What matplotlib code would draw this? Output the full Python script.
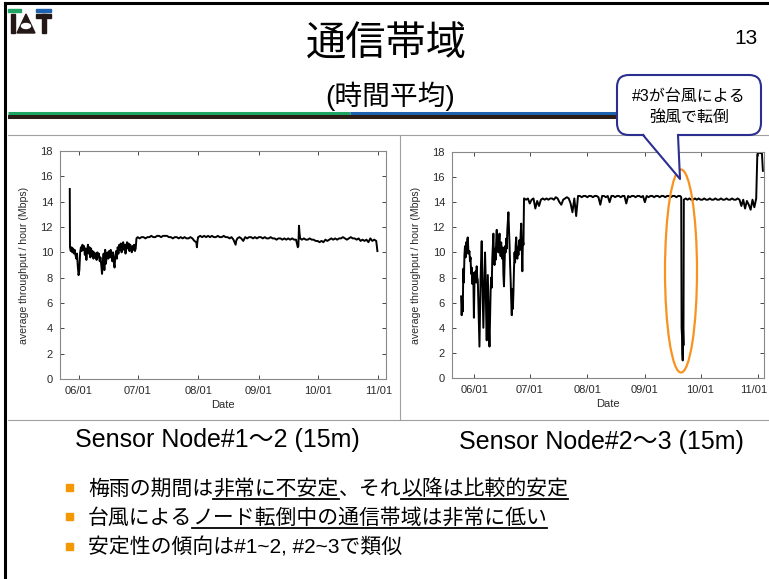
import numpy as np
import matplotlib.pyplot as plt
from matplotlib.patches import Rectangle, Polygon, Ellipse, FancyBboxPatch
from matplotlib.transforms import ScaledTranslation

plt.rcParams['font.family'] = ['Liberation Sans', 'Noto Sans CJK JP']

# ---- data : hourly-averaged throughput (Mbps) ----
# day offsets are counted from 06/01
base = np.datetime64('2012-06-01T00:00')

# Sensor Node #1-2
n12_start = [15.0, 10.4]                                    # days -4.7, -4.6
n12_rain = [10.1, 10.4, 10.0, 10.3, 9.9, 10.2, 9.8, 9.5, 9.9, 8.9,
            8.2, 8.6, 10.0, 10.4, 10.1, 10.6, 10.2, 10.5, 9.8, 10.3,
            9.4, 10.2, 10.6, 9.9, 10.4, 9.6, 10.3, 9.7, 10.1, 9.5,
            10.0, 9.6, 9.9, 9.4, 10.0, 9.6, 9.9, 9.3, 9.6, 9.0,
            8.3, 9.2, 9.9, 8.6, 10.2, 9.1, 9.8, 10.0, 9.5, 10.1,
            9.6, 10.2, 9.8, 9.3, 10.0, 9.2, 8.8, 9.7, 10.1, 9.5,
            10.4, 9.9, 10.6, 10.2, 10.7, 10.0, 10.5, 10.8, 10.2, 10.6,
            9.9, 10.5, 10.8, 10.3, 10.7, 10.1, 10.6, 10.4, 10.0, 10.5,
            10.2, 10.6, 10.1, 10.3]                          # every 0.4 day from -4.2
n12_jul = [11.1, 11.2, 11.1, 11.2, 11.2, 11.1, 11.2, 11.2, 11.3, 11.2, 11.2,
           11.3, 11.3, 11.2, 11.3, 11.3, 11.3, 11.2, 11.2, 11.1, 11.2,
           11.2, 11.1, 11.2, 11.1, 11.2, 11.1, 11.1, 11.2, 11.1, 10.9]   # 29.4, then daily from 30
n12_dip1 = [10.8, 10.4, 10.9, 11.2]                         # every 0.3 day from 60.0
n12_aug = [11.2, 11.3, 11.2, 11.3, 11.2, 11.3, 11.2, 11.3, 11.2, 11.2,
           11.3, 11.2, 11.2, 11.3, 11.2, 11.2, 11.1, 11.2, 11.0]         # daily from 61
n12_dip2 = [10.6, 10.9]                                     # every 0.3 day from 80.1
n12_sep = [11.1, 11.2, 11.1, 10.9, 11.2, 11.1, 11.2, 11.2, 11.1, 11.2,
           11.1, 11.2, 11.2, 11.1, 11.2, 11.1, 11.1, 11.2, 11.1, 11.1,
           11.0, 11.1, 11.1, 11.0, 11.1, 11.0, 11.1, 11.0, 11.1, 11.0, 11.0]  # daily from 81
n12_typh = [10.6, 10.4, 10.5, 12.1, 11.5, 11.1]             # every 0.3 day from 111.6
n12_oct = [11.0, 11.1, 11.0, 11.0, 11.1, 11.0, 11.0, 10.9, 10.9, 10.8,
           10.9, 10.8, 11.0, 10.9, 11.0, 11.1, 11.0, 11.1, 11.0, 11.1,
           11.1, 11.2, 11.1, 11.0, 11.1, 11.2, 11.1, 11.1, 11.0, 11.1,
           10.9, 11.0, 10.9, 11.0, 10.8, 11.1, 10.9, 11.0, 10.9]         # daily from 114
n12_end = [10.1]                                            # day 152.6

# Sensor Node #2-3
n23_rain = [6.5, 5.0, 6.2, 5.3, 8.7, 7.6, 9.8, 10.5, 9.6, 10.8,
            9.9, 11.0, 11.2, 10.2, 9.9, 10.1, 9.3, 9.6, 8.3, 8.8,
            7.5, 8.4, 8.0, 4.8, 7.6, 8.3, 8.5, 7.6, 8.9, 8.0,
            7.8, 6.0, 4.2, 2.5, 5.3, 8.0, 9.6, 10.9, 8.0, 6.1,
            4.0, 6.2, 8.4, 10.0, 8.3, 5.0, 3.0, 5.8, 8.2, 5.9,
            4.0, 2.5, 4.8, 6.9, 8.0, 7.2, 9.5, 10.6, 11.5, 9.8,
            9.0, 10.3, 9.4, 10.8, 11.8, 10.4, 11.2, 10.0, 10.9, 11.5,
            10.2, 9.7, 10.8, 9.9, 9.5, 10.4, 8.2, 7.3, 9.0, 10.5,
            10.0, 11.1, 10.3, 11.8, 12.5, 13.2, 12.0, 10.6, 9.0, 7.8,
            6.2, 5.0, 7.1, 5.5, 6.8, 8.7, 10.0, 9.2, 10.6, 11.2,
            10.1, 9.5, 10.4, 9.8, 10.8, 11.0, 10.2, 11.5, 12.3, 10.4,
            8.5, 11.0, 10.6]                                # every 0.3 day from -7.0
n23_jul = [14.3, 14.3, 14.2, 14.3, 13.9, 14.2, 14.3, 13.5, 14.1, 13.7, 14.2,
           14.3, 14.2, 14.3, 14.2, 14.3, 14.3, 14.2, 14.4, 14.3, 14.0,
           13.8, 14.2, 14.3, 14.4, 14.3, 13.9, 13.2, 14.3, 12.9, 14.5,
           14.5, 14.4, 14.5, 14.5, 14.4, 14.5, 14.5, 14.4, 14.5, 14.5,
           14.4, 13.8, 14.5, 14.5, 14.4, 14.5, 14.0, 14.5, 14.5, 14.4,
           14.5, 14.5, 14.4, 14.5, 14.5, 13.9, 14.5, 14.4, 14.5, 14.5,
           14.4, 14.5, 14.5, 14.4, 14.5, 14.0, 14.5, 14.4, 14.5, 14.5,
           14.4, 14.5, 14.5, 14.4, 14.5, 14.5, 14.4, 14.5, 14.5, 14.4,
           14.5, 14.5, 14.4, 14.5, 14.5]                    # 26.9, then daily from 27
n23_typh = [14.4, 4.0, 3.4, 2.0, 1.4, 3.8, 2.6, 14.2]       # every 0.2 day from 111.6
n23_oct = [14.3, 14.2, 14.3, 14.2, 14.2, 14.3, 14.2, 14.3, 14.2, 14.2,
           14.3, 14.2, 14.2, 14.3, 14.2, 14.2, 14.3, 14.2, 14.2, 14.3,
           14.2, 14.2, 14.3, 14.2, 14.2, 14.3, 14.2, 14.2, 14.3, 14.2,
           13.7, 14.2, 13.5, 14.1, 13.8, 13.4, 14.2, 13.6, 14.3]         # daily from 114
n23_nov = [17.8, 18.0, 18.0, 17.9, 18.0, 17.9, 16.5]        # every 0.5 day from 152.6

date_ticks = ['06/01', '07/01', '08/01', '09/01', '10/01', '11/01']
y_ticks = [0, 2, 4, 6, 8, 10, 12, 14, 16, 18]


def seg(start, step, vals):
    return start + step * np.arange(len(vals))


def to_dates(days):
    return base + np.round(np.asarray(days) * 1440).astype(int).astype('timedelta64[m]')


n12_days = np.concatenate([seg(-4.7, 0.1, n12_start), seg(-4.2, 0.4, n12_rain),
                           [29.4], seg(30, 1, n12_jul[1:]), seg(60.0, 0.3, n12_dip1),
                           seg(61, 1, n12_aug), seg(80.1, 0.3, n12_dip2),
                           seg(81, 1, n12_sep), seg(111.6, 0.3, n12_typh),
                           seg(114, 1, n12_oct), [152.6]])
n12_vals = n12_start + n12_rain + n12_jul + n12_dip1 + n12_aug + n12_dip2 + n12_sep + n12_typh + n12_oct + n12_end

n23_days = np.concatenate([seg(-7.0, 0.3, n23_rain), [26.9], seg(27, 1, n23_jul[1:]),
                           seg(111.6, 0.2, n23_typh), seg(114, 1, n23_oct),
                           seg(152.6, 0.5, n23_nov)])
n23_vals = n23_rain + n23_jul + n23_typh + n23_oct + n23_nov

W, H = 769, 579
fig = plt.figure(figsize=(W / 100, H / 100), dpi=100)
fig.patch.set_facecolor('white')


def box(x0, y0, x1, y1):
    return [x0 / W, 1 - y1 / H, (x1 - x0) / W, (y1 - y0) / H]


def chart(rect, days, vals, lim):
    ax = fig.add_axes(box(*rect))
    ax.plot(to_dates(days), vals, color='black', lw=1.4)
    ax.set_ylim(0, 18)
    ax.set_yticks(y_ticks)
    ax.set_xlim(to_dates(lim))
    ax.set_xticks(to_dates([0, 30, 61, 92, 122, 153]))
    ax.set_xticklabels(date_ticks)
    ax.tick_params(direction='in', top=True, right=True, length=3, width=0.6,
                   labelsize=8, colors='#2a2a2a', pad=5)
    for s in ax.spines.values():
        s.set_color('#888888')
        s.set_linewidth(0.8)
    ax.set_xlabel('Date', fontsize=8, color='#2a2a2a', labelpad=3)
    ax.set_ylabel('average throughput / hour (Mbps)', fontsize=7.6, color='#2a2a2a', labelpad=8)
    return ax


chart((60, 151, 386, 379), n12_days, n12_vals, (-9.7, 157))
ax2 = chart((452, 152, 764, 378), n23_days, n23_vals, (-11.9, 156.2))
# the last date label sits at the slide edge: nudge it inside
last = ax2.xaxis.get_major_ticks()[-1].label1
last.set_transform(last.get_transform() + ScaledTranslation(-0.045, 0, fig.dpi_scale_trans))

# ---- slide overlay (pixel coordinates) ----
ov = fig.add_axes([0, 0, 1, 1])
ov.set_xlim(0, W)
ov.set_ylim(H, 0)
ov.axis('off')

# frame
ov.plot([5, 5], [3, H], color='black', lw=2.2)
ov.plot([5, W], [3, 3], color='black', lw=2.2)

# logo
dark = '#231815'
ov.add_patch(Rectangle((8, 9), 13, 3, color='#1fa463'))
ov.add_patch(Rectangle((36, 9), 15, 3, color='#1c62b0'))
ov.add_patch(Rectangle((11, 14), 4, 19, color=dark))
ov.add_patch(Polygon([(26, 14), (17, 33), (35, 33)], color=dark))
ov.add_patch(Ellipse((26, 26), 9, 5, color='white'))
ov.add_patch(Rectangle((36, 14), 15, 4, color=dark))
ov.add_patch(Rectangle((41.5, 14), 4, 19, color=dark))

# titles
ov.text(386, 45, '通信帯域', fontsize=29, ha='center', va='center')
ov.text(390, 96, '(時間平均)', fontsize=20, ha='center', va='center')
ov.text(746, 38, '13', fontsize=15, ha='center', va='center')

# header rule
ov.plot([8, 350], [112.5, 112.5], color='#1fa463', lw=2.2, solid_capstyle='butt')
ov.plot([350, 700], [112.5, 112.5], color='#1c62b0', lw=2.2, solid_capstyle='butt')
ov.plot([8, 700], [116.5, 116.5], color='#2b1d16', lw=2.9, solid_capstyle='butt')

# chart panel lines
grey = '#a0a0a0'
ov.plot([8, W], [135, 135], color=grey, lw=0.8)
ov.plot([8, W], [420, 420], color=grey, lw=0.8)
ov.plot([400, 400], [135, 420], color=grey, lw=0.8)

# callout
navy = '#2b2f8f'
ov.add_patch(FancyBboxPatch((617, 75), 144, 60, boxstyle='round,pad=0,rounding_size=12',
                            facecolor='white', edgecolor=navy, lw=1.5, zorder=5))
ov.add_patch(Polygon([(643, 133), (680, 179), (678, 133)], facecolor='white',
                     edgecolor='none', zorder=6))
ov.plot([643, 680, 678], [135, 179, 135], color=navy, lw=1.5, zorder=7)
ov.text(689, 96, '#3が台風による', fontsize=11.5, ha='center', va='center', zorder=8)
ov.text(689, 118, '強風で転倒', fontsize=11.5, ha='center', va='center', zorder=8)

# typhoon marker
ov.add_patch(Ellipse((681, 271), 32, 203, fill=False, edgecolor='#f7931e', lw=1.6, zorder=4))

# captions
ov.text(217, 440, 'Sensor Node#1～2 (15m)', fontsize=18, ha='center', va='center')
ov.text(601, 442, 'Sensor Node#2～3 (15m)', fontsize=18, ha='center', va='center')

bullets = [
    [('梅雨の期間は', False), ('非常に不安定', True), ('、それ', False), ('以降は比較的安定', True)],
    [('台風による', False), ('ノード転倒中の通信帯域は非常に低い', True)],
    [('安定性の傾向は#1~2, #2~3で類似', False)],
]
bullet_y = [495, 524, 554]

r = fig.canvas.get_renderer()
for parts, y in zip(bullets, bullet_y):
    ov.add_patch(Rectangle((66, y - 11), 7, 7, color='#f39800'))
    x = 88
    for s, ul in parts:
        t = ov.text(x, y, s, fontsize=15, ha='left', va='baseline')
        w = t.get_window_extent(renderer=r).width
        if ul:
            ov.plot([x, x + w], [y + 3.5, y + 3.5], color='black', lw=1.3)
        x += w

fig.savefig('out.png', dpi=100)
